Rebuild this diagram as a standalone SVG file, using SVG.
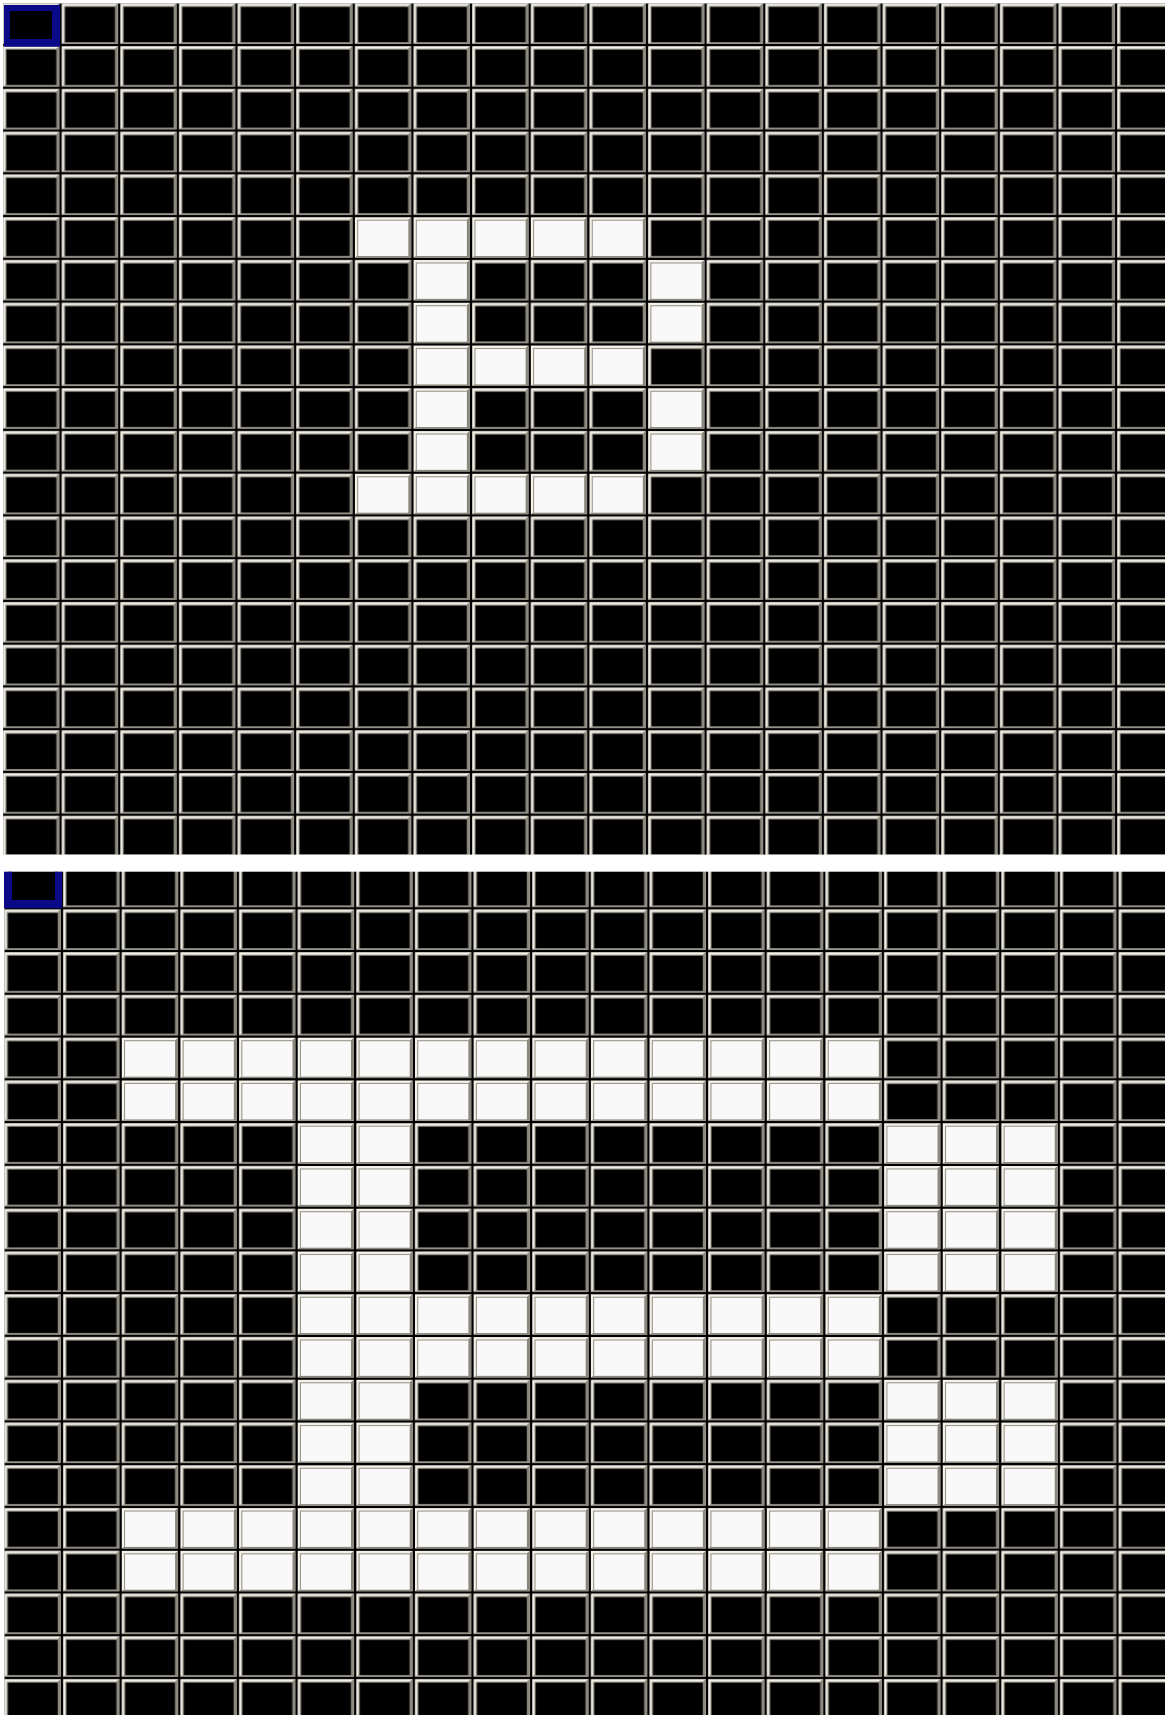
<svg xmlns="http://www.w3.org/2000/svg" xmlns:xlink="http://www.w3.org/1999/xlink" width="1165" height="1715" viewBox="0 0 1165 1715">
<style>
.ln{fill:#000}
.hl{fill:#f4f2e9}
.sh{fill:#8a877d}
.ed{fill:#9a978c}
.ib{fill:#000}
.iw{fill:#f9f9f9}
.sel{fill:#0a0a88;fill-rule:evenodd}
</style>
<defs>
<g id="cb">
<rect class="ln" width="58.64" height="42.76"/>
<rect class="hl" x="1.2" y="1.2" width="56.24" height="40.36"/>
<path class="sh" d="M57.44 1.2V41.56H1.2L3.4 39.96H54.44V3.6Z"/>
<rect class="ed" x="3.4" y="3.6" width="51.04" height="36.36"/>
<rect class="ib" x="4.5" y="4.7" width="49.94" height="35.26"/>
</g>
<g id="cw">
<rect class="ln" width="58.64" height="42.76"/>
<rect class="hl" x="1.2" y="1.2" width="56.24" height="40.36"/>
<path class="sh" d="M57.44 1.2V41.56H1.2L3.4 39.96H54.44V3.6Z"/>
<rect class="ed" x="3.4" y="3.6" width="51.04" height="36.36"/>
<rect class="iw" x="4.5" y="4.7" width="49.94" height="35.26"/>
</g>
<pattern id="ptop" patternUnits="userSpaceOnUse" x="1.9" y="2.26" width="58.64" height="42.76"><use href="#cb"/></pattern>
<pattern id="pbot" patternUnits="userSpaceOnUse" x="3.32" y="865.5" width="58.64" height="42.76"><use href="#cb"/></pattern>
</defs>
<rect width="1165" height="1715" fill="#fff"/>
<g id="top-grid">
<rect x="3.1" y="3.46" width="1161.9" height="851.14" fill="url(#ptop)"/>
<g id="top-white">
<use href="#cw" x="353.74" y="216.06"/><use href="#cw" x="412.38" y="216.06"/><use href="#cw" x="471.02" y="216.06"/><use href="#cw" x="529.66" y="216.06"/><use href="#cw" x="588.3" y="216.06"/>
<use href="#cw" x="412.38" y="258.82"/><use href="#cw" x="646.94" y="258.82"/>
<use href="#cw" x="412.38" y="301.58"/><use href="#cw" x="646.94" y="301.58"/>
<use href="#cw" x="412.38" y="344.34"/><use href="#cw" x="471.02" y="344.34"/><use href="#cw" x="529.66" y="344.34"/><use href="#cw" x="588.3" y="344.34"/>
<use href="#cw" x="412.38" y="387.1"/><use href="#cw" x="646.94" y="387.1"/>
<use href="#cw" x="412.38" y="429.86"/><use href="#cw" x="646.94" y="429.86"/>
<use href="#cw" x="353.74" y="472.62"/><use href="#cw" x="412.38" y="472.62"/><use href="#cw" x="471.02" y="472.62"/><use href="#cw" x="529.66" y="472.62"/><use href="#cw" x="588.3" y="472.62"/>
</g>
<path id="top-selection" class="sel" d="M4 5H60V46.7H4Z M10 11V39H52V11Z"/>
</g>
<g id="bottom-grid">
<rect x="4.52" y="871.7" width="1160.48" height="843.3" fill="url(#pbot)"/>
<g id="bottom-white">
<use href="#cw" x="120.6" y="1036.54"/><use href="#cw" x="179.24" y="1036.54"/><use href="#cw" x="237.88" y="1036.54"/><use href="#cw" x="296.52" y="1036.54"/><use href="#cw" x="355.16" y="1036.54"/><use href="#cw" x="413.8" y="1036.54"/><use href="#cw" x="472.44" y="1036.54"/><use href="#cw" x="531.08" y="1036.54"/><use href="#cw" x="589.72" y="1036.54"/><use href="#cw" x="648.36" y="1036.54"/><use href="#cw" x="707" y="1036.54"/><use href="#cw" x="765.64" y="1036.54"/><use href="#cw" x="824.28" y="1036.54"/>
<use href="#cw" x="120.6" y="1079.3"/><use href="#cw" x="179.24" y="1079.3"/><use href="#cw" x="237.88" y="1079.3"/><use href="#cw" x="296.52" y="1079.3"/><use href="#cw" x="355.16" y="1079.3"/><use href="#cw" x="413.8" y="1079.3"/><use href="#cw" x="472.44" y="1079.3"/><use href="#cw" x="531.08" y="1079.3"/><use href="#cw" x="589.72" y="1079.3"/><use href="#cw" x="648.36" y="1079.3"/><use href="#cw" x="707" y="1079.3"/><use href="#cw" x="765.64" y="1079.3"/><use href="#cw" x="824.28" y="1079.3"/>
<use href="#cw" x="296.52" y="1122.06"/><use href="#cw" x="355.16" y="1122.06"/><use href="#cw" x="882.92" y="1122.06"/><use href="#cw" x="941.56" y="1122.06"/><use href="#cw" x="1000.2" y="1122.06"/>
<use href="#cw" x="296.52" y="1164.82"/><use href="#cw" x="355.16" y="1164.82"/><use href="#cw" x="882.92" y="1164.82"/><use href="#cw" x="941.56" y="1164.82"/><use href="#cw" x="1000.2" y="1164.82"/>
<use href="#cw" x="296.52" y="1207.58"/><use href="#cw" x="355.16" y="1207.58"/><use href="#cw" x="882.92" y="1207.58"/><use href="#cw" x="941.56" y="1207.58"/><use href="#cw" x="1000.2" y="1207.58"/>
<use href="#cw" x="296.52" y="1250.34"/><use href="#cw" x="355.16" y="1250.34"/><use href="#cw" x="882.92" y="1250.34"/><use href="#cw" x="941.56" y="1250.34"/><use href="#cw" x="1000.2" y="1250.34"/>
<use href="#cw" x="296.52" y="1293.1"/><use href="#cw" x="355.16" y="1293.1"/><use href="#cw" x="413.8" y="1293.1"/><use href="#cw" x="472.44" y="1293.1"/><use href="#cw" x="531.08" y="1293.1"/><use href="#cw" x="589.72" y="1293.1"/><use href="#cw" x="648.36" y="1293.1"/><use href="#cw" x="707" y="1293.1"/><use href="#cw" x="765.64" y="1293.1"/><use href="#cw" x="824.28" y="1293.1"/>
<use href="#cw" x="296.52" y="1335.86"/><use href="#cw" x="355.16" y="1335.86"/><use href="#cw" x="413.8" y="1335.86"/><use href="#cw" x="472.44" y="1335.86"/><use href="#cw" x="531.08" y="1335.86"/><use href="#cw" x="589.72" y="1335.86"/><use href="#cw" x="648.36" y="1335.86"/><use href="#cw" x="707" y="1335.86"/><use href="#cw" x="765.64" y="1335.86"/><use href="#cw" x="824.28" y="1335.86"/>
<use href="#cw" x="296.52" y="1378.62"/><use href="#cw" x="355.16" y="1378.62"/><use href="#cw" x="882.92" y="1378.62"/><use href="#cw" x="941.56" y="1378.62"/><use href="#cw" x="1000.2" y="1378.62"/>
<use href="#cw" x="296.52" y="1421.38"/><use href="#cw" x="355.16" y="1421.38"/><use href="#cw" x="882.92" y="1421.38"/><use href="#cw" x="941.56" y="1421.38"/><use href="#cw" x="1000.2" y="1421.38"/>
<use href="#cw" x="296.52" y="1464.14"/><use href="#cw" x="355.16" y="1464.14"/><use href="#cw" x="882.92" y="1464.14"/><use href="#cw" x="941.56" y="1464.14"/><use href="#cw" x="1000.2" y="1464.14"/>
<use href="#cw" x="120.6" y="1506.9"/><use href="#cw" x="179.24" y="1506.9"/><use href="#cw" x="237.88" y="1506.9"/><use href="#cw" x="296.52" y="1506.9"/><use href="#cw" x="355.16" y="1506.9"/><use href="#cw" x="413.8" y="1506.9"/><use href="#cw" x="472.44" y="1506.9"/><use href="#cw" x="531.08" y="1506.9"/><use href="#cw" x="589.72" y="1506.9"/><use href="#cw" x="648.36" y="1506.9"/><use href="#cw" x="707" y="1506.9"/><use href="#cw" x="765.64" y="1506.9"/><use href="#cw" x="824.28" y="1506.9"/>
<use href="#cw" x="120.6" y="1549.66"/><use href="#cw" x="179.24" y="1549.66"/><use href="#cw" x="237.88" y="1549.66"/><use href="#cw" x="296.52" y="1549.66"/><use href="#cw" x="355.16" y="1549.66"/><use href="#cw" x="413.8" y="1549.66"/><use href="#cw" x="472.44" y="1549.66"/><use href="#cw" x="531.08" y="1549.66"/><use href="#cw" x="589.72" y="1549.66"/><use href="#cw" x="648.36" y="1549.66"/><use href="#cw" x="707" y="1549.66"/><use href="#cw" x="765.64" y="1549.66"/><use href="#cw" x="824.28" y="1549.66"/>
</g>
<path id="bottom-selection" class="sel" d="M4 871.7H62V908.3H4Z M12 871.7V900H55V871.7Z"/>
</g>
</svg>
